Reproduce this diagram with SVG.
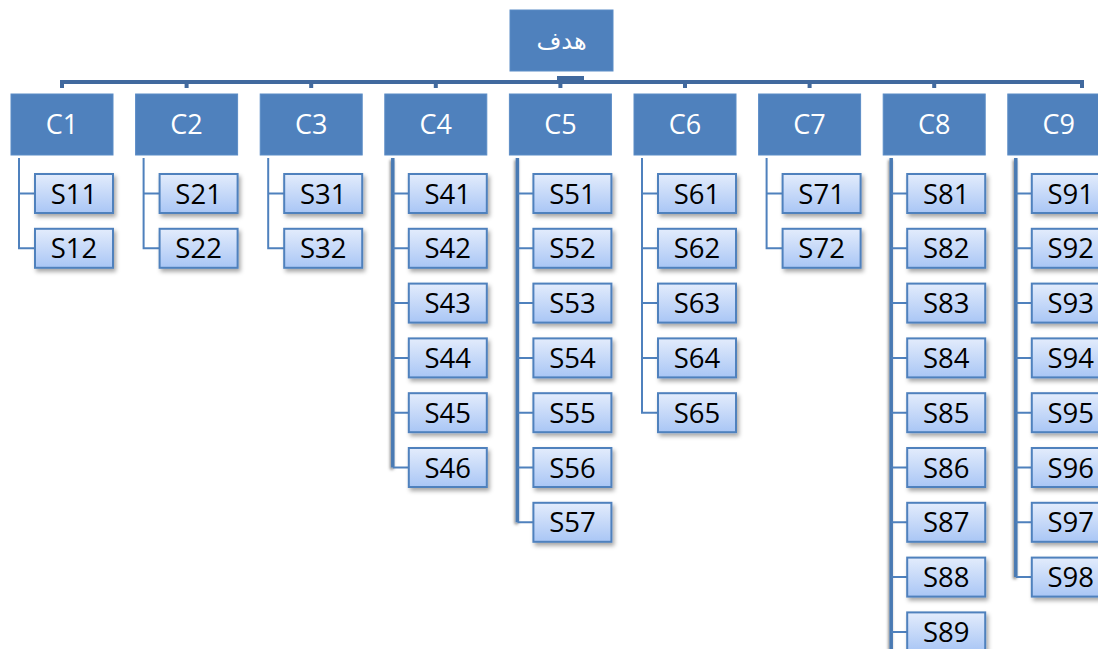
<svg xmlns="http://www.w3.org/2000/svg" width="1098" height="649" viewBox="0 0 1098 649">
<defs>
<linearGradient id="sg" x1="0" y1="0" x2="0" y2="1">
<stop offset="0" stop-color="#e3ecfc"/>
<stop offset="1" stop-color="#a9c6f5"/>
</linearGradient>
<filter id="sh" x="-20%" y="-20%" width="150%" height="160%">
<feDropShadow dx="2" dy="3" stdDeviation="2" flood-color="#000" flood-opacity="0.35"/>
</filter>
<filter id="lsh" filterUnits="userSpaceOnUse" x="0" y="0" width="1098" height="649">
<feDropShadow dx="-1" dy="2" stdDeviation="1.5" flood-color="#000" flood-opacity="0.5"/>
</filter>
<style>
.c rect{fill:#4f81bd;stroke:#5b8cc6;stroke-width:1}
.c text{fill:#fff;font-family:"Open Sans","Liberation Sans",sans-serif;font-size:27px;text-anchor:middle}
.t text{fill:#fff;font-family:"DejaVu Sans","Noto Sans",sans-serif;font-size:24px;text-anchor:middle}
.s rect{fill:url(#sg);stroke:#4f81bd;stroke-width:2;filter:url(#sh)}
.s text{fill:#000;font-family:"Open Sans","Liberation Sans",sans-serif;font-size:27.5px;text-anchor:middle}
.ln{fill:none;stroke:#4f81bd;stroke-width:2}
.thk{fill:none;stroke:#4a7ab3;stroke-width:3.5;filter:url(#lsh)}
.bar{fill:none;stroke:#41699e;stroke-width:4}
</style>
</defs>
<g id="connectors">
<path class="bar" d="M62 88V82H1082V88M186.6 82V88M311.2 82V88M435.8 82V88M560.4 82V88M685 82V88M809.6 82V88M934.2 82V88"/>
<rect x="557" y="76" width="27" height="7" fill="#41699e"/>
<path class="ln" d="M19 158V248.3H35M19 193.5H35"/>
<path class="ln" d="M143.6 158V248.3H159.6M143.6 193.5H159.6"/>
<path class="ln" d="M268.2 158V248.3H284.2M268.2 193.5H284.2"/>
<path class="thk" d="M392.8 158V467.5"/>
<path class="ln" d="M392.8 467.5H408.8M392.8 193.5H408.8M392.8 248.3H408.8M392.8 303.1H408.8M392.8 357.9H408.8M392.8 412.7H408.8"/>
<path class="thk" d="M517.4 158V522.3"/>
<path class="ln" d="M517.4 522.3H533.4M517.4 193.5H533.4M517.4 248.3H533.4M517.4 303.1H533.4M517.4 357.9H533.4M517.4 412.7H533.4M517.4 467.5H533.4"/>
<path class="ln" d="M642 158V412.7H658M642 193.5H658M642 248.3H658M642 303.1H658M642 357.9H658"/>
<path class="ln" d="M766.6 158V248.3H782.6M766.6 193.5H782.6"/>
<path class="thk" d="M891.2 158V649"/>
<path class="ln" d="M891.2 193.5H907.2M891.2 248.3H907.2M891.2 303.1H907.2M891.2 357.9H907.2M891.2 412.7H907.2M891.2 467.5H907.2M891.2 522.3H907.2M891.2 577.1H907.2M891.2 631.9H907.2"/>
<path class="thk" d="M1015.8 158V577.1"/>
<path class="ln" d="M1015.8 577.1H1031.8M1015.8 193.5H1031.8M1015.8 248.3H1031.8M1015.8 303.1H1031.8M1015.8 357.9H1031.8M1015.8 412.7H1031.8M1015.8 467.5H1031.8M1015.8 522.3H1031.8"/>
</g>
<g id="goal" class="c t" transform="translate(510,10)"><rect width="103" height="61"/><text x="51.5" y="39">هدف</text></g>
<g id="C1" class="c" transform="translate(11,94)"><rect width="102" height="61"/><text x="51" y="40">C1</text></g>
<g id="C2" class="c" transform="translate(135.6,94)"><rect width="102" height="61"/><text x="51" y="40">C2</text></g>
<g id="C3" class="c" transform="translate(260.2,94)"><rect width="102" height="61"/><text x="51" y="40">C3</text></g>
<g id="C4" class="c" transform="translate(384.8,94)"><rect width="102" height="61"/><text x="51" y="40">C4</text></g>
<g id="C5" class="c" transform="translate(509.4,94)"><rect width="102" height="61"/><text x="51" y="40">C5</text></g>
<g id="C6" class="c" transform="translate(634,94)"><rect width="102" height="61"/><text x="51" y="40">C6</text></g>
<g id="C7" class="c" transform="translate(758.6,94)"><rect width="102" height="61"/><text x="51" y="40">C7</text></g>
<g id="C8" class="c" transform="translate(883.2,94)"><rect width="102" height="61"/><text x="51" y="40">C8</text></g>
<g id="C9" class="c" transform="translate(1007.8,94)"><rect width="102" height="61"/><text x="51" y="40">C9</text></g>
<g id="S11" class="s" transform="translate(35,174)"><rect width="78" height="39"/><text x="39" y="29.5">S11</text></g>
<g id="S12" class="s" transform="translate(35,228.8)"><rect width="78" height="39"/><text x="39" y="29.5">S12</text></g>
<g id="S21" class="s" transform="translate(159.6,174)"><rect width="78" height="39"/><text x="39" y="29.5">S21</text></g>
<g id="S22" class="s" transform="translate(159.6,228.8)"><rect width="78" height="39"/><text x="39" y="29.5">S22</text></g>
<g id="S31" class="s" transform="translate(284.2,174)"><rect width="78" height="39"/><text x="39" y="29.5">S31</text></g>
<g id="S32" class="s" transform="translate(284.2,228.8)"><rect width="78" height="39"/><text x="39" y="29.5">S32</text></g>
<g id="S41" class="s" transform="translate(408.8,174)"><rect width="78" height="39"/><text x="39" y="29.5">S41</text></g>
<g id="S42" class="s" transform="translate(408.8,228.8)"><rect width="78" height="39"/><text x="39" y="29.5">S42</text></g>
<g id="S43" class="s" transform="translate(408.8,283.6)"><rect width="78" height="39"/><text x="39" y="29.5">S43</text></g>
<g id="S44" class="s" transform="translate(408.8,338.4)"><rect width="78" height="39"/><text x="39" y="29.5">S44</text></g>
<g id="S45" class="s" transform="translate(408.8,393.2)"><rect width="78" height="39"/><text x="39" y="29.5">S45</text></g>
<g id="S46" class="s" transform="translate(408.8,448)"><rect width="78" height="39"/><text x="39" y="29.5">S46</text></g>
<g id="S51" class="s" transform="translate(533.4,174)"><rect width="78" height="39"/><text x="39" y="29.5">S51</text></g>
<g id="S52" class="s" transform="translate(533.4,228.8)"><rect width="78" height="39"/><text x="39" y="29.5">S52</text></g>
<g id="S53" class="s" transform="translate(533.4,283.6)"><rect width="78" height="39"/><text x="39" y="29.5">S53</text></g>
<g id="S54" class="s" transform="translate(533.4,338.4)"><rect width="78" height="39"/><text x="39" y="29.5">S54</text></g>
<g id="S55" class="s" transform="translate(533.4,393.2)"><rect width="78" height="39"/><text x="39" y="29.5">S55</text></g>
<g id="S56" class="s" transform="translate(533.4,448)"><rect width="78" height="39"/><text x="39" y="29.5">S56</text></g>
<g id="S57" class="s" transform="translate(533.4,502.8)"><rect width="78" height="39"/><text x="39" y="29.5">S57</text></g>
<g id="S61" class="s" transform="translate(658,174)"><rect width="78" height="39"/><text x="39" y="29.5">S61</text></g>
<g id="S62" class="s" transform="translate(658,228.8)"><rect width="78" height="39"/><text x="39" y="29.5">S62</text></g>
<g id="S63" class="s" transform="translate(658,283.6)"><rect width="78" height="39"/><text x="39" y="29.5">S63</text></g>
<g id="S64" class="s" transform="translate(658,338.4)"><rect width="78" height="39"/><text x="39" y="29.5">S64</text></g>
<g id="S65" class="s" transform="translate(658,393.2)"><rect width="78" height="39"/><text x="39" y="29.5">S65</text></g>
<g id="S71" class="s" transform="translate(782.6,174)"><rect width="78" height="39"/><text x="39" y="29.5">S71</text></g>
<g id="S72" class="s" transform="translate(782.6,228.8)"><rect width="78" height="39"/><text x="39" y="29.5">S72</text></g>
<g id="S81" class="s" transform="translate(907.2,174)"><rect width="78" height="39"/><text x="39" y="29.5">S81</text></g>
<g id="S82" class="s" transform="translate(907.2,228.8)"><rect width="78" height="39"/><text x="39" y="29.5">S82</text></g>
<g id="S83" class="s" transform="translate(907.2,283.6)"><rect width="78" height="39"/><text x="39" y="29.5">S83</text></g>
<g id="S84" class="s" transform="translate(907.2,338.4)"><rect width="78" height="39"/><text x="39" y="29.5">S84</text></g>
<g id="S85" class="s" transform="translate(907.2,393.2)"><rect width="78" height="39"/><text x="39" y="29.5">S85</text></g>
<g id="S86" class="s" transform="translate(907.2,448)"><rect width="78" height="39"/><text x="39" y="29.5">S86</text></g>
<g id="S87" class="s" transform="translate(907.2,502.8)"><rect width="78" height="39"/><text x="39" y="29.5">S87</text></g>
<g id="S88" class="s" transform="translate(907.2,557.6)"><rect width="78" height="39"/><text x="39" y="29.5">S88</text></g>
<g id="S89" class="s" transform="translate(907.2,612.4)"><rect width="78" height="39"/><text x="39" y="29.5">S89</text></g>
<g id="S91" class="s" transform="translate(1031.8,174)"><rect width="78" height="39"/><text x="39" y="29.5">S91</text></g>
<g id="S92" class="s" transform="translate(1031.8,228.8)"><rect width="78" height="39"/><text x="39" y="29.5">S92</text></g>
<g id="S93" class="s" transform="translate(1031.8,283.6)"><rect width="78" height="39"/><text x="39" y="29.5">S93</text></g>
<g id="S94" class="s" transform="translate(1031.8,338.4)"><rect width="78" height="39"/><text x="39" y="29.5">S94</text></g>
<g id="S95" class="s" transform="translate(1031.8,393.2)"><rect width="78" height="39"/><text x="39" y="29.5">S95</text></g>
<g id="S96" class="s" transform="translate(1031.8,448)"><rect width="78" height="39"/><text x="39" y="29.5">S96</text></g>
<g id="S97" class="s" transform="translate(1031.8,502.8)"><rect width="78" height="39"/><text x="39" y="29.5">S97</text></g>
<g id="S98" class="s" transform="translate(1031.8,557.6)"><rect width="78" height="39"/><text x="39" y="29.5">S98</text></g>
</svg>
